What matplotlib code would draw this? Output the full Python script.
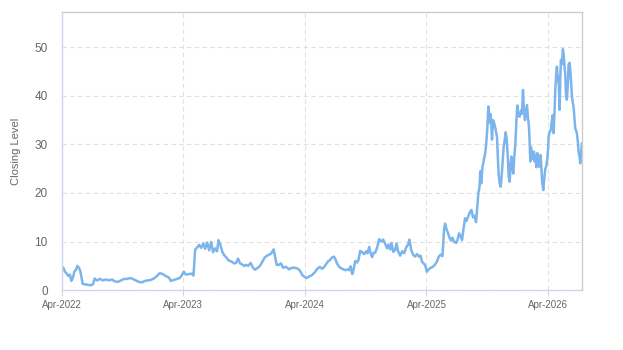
import matplotlib
matplotlib.use("Agg")
import matplotlib.pyplot as plt
import matplotlib.dates as mdates
import pandas as pd

# closing level (days counted from 2022-04-01)
start = "2022-04-01"
days = [
    0, 5, 10, 16, 20, 25, 29, 34, 38, 43, 47, 52, 56, 60, 63, 70, 79, 88, 94, 99,
    106, 115, 124, 133, 142, 151, 160, 169, 178, 187, 196, 205, 214, 223, 232, 241,
    250, 259, 268, 277, 286, 295, 304, 313, 322, 328, 337, 346, 355, 361, 367, 373,
    382, 391, 396, 401, 407, 413, 419, 425, 431, 437, 443, 449, 455, 461, 467, 471,
    476, 482, 488, 494, 500, 506, 512, 518, 524, 530, 536, 542, 548, 554, 560, 568,
    574, 581, 589, 596, 604, 611, 620, 629, 637, 641, 646, 653, 659, 665, 674, 683,
    692, 701, 710, 716, 722, 728, 736, 743, 752, 761, 768, 776, 782, 788, 794, 800,
    806, 812, 818, 823, 828, 834, 840, 846, 852, 858, 864, 868, 873, 877, 882, 888,
    892, 897, 903, 909, 915, 919, 924, 928, 933, 937, 942, 948, 954, 960, 966, 972,
    978, 982, 987, 991, 996, 1002, 1006, 1011, 1017, 1023, 1029, 1035, 1041, 1045,
    1050, 1056, 1062, 1068, 1074, 1078, 1083, 1089, 1093, 1097, 1103, 1109, 1115,
    1121, 1127, 1133, 1139, 1144, 1149, 1152, 1156, 1161, 1165, 1170, 1174, 1179,
    1185, 1189, 1194, 1198, 1203, 1207, 1212, 1216, 1221, 1227, 1231, 1236, 1240,
    1245, 1249, 1252, 1255, 1258, 1261, 1264, 1267, 1273, 1276, 1279, 1282, 1285,
    1288, 1291, 1293, 1296, 1300, 1304, 1308, 1311, 1313, 1316, 1319, 1322, 1325,
    1328, 1331, 1334, 1337, 1340, 1343, 1346, 1349, 1351, 1354, 1357, 1360, 1363,
    1366, 1369, 1372, 1376, 1380, 1383, 1386, 1389, 1392, 1395, 1398, 1401, 1404,
    1406, 1408, 1410, 1413, 1416, 1419, 1421, 1424, 1426, 1429, 1431, 1434, 1437,
    1439, 1442, 1444, 1447, 1450, 1453, 1456, 1459, 1462, 1463, 1466, 1470, 1472,
    1475, 1478, 1481, 1483, 1486, 1488, 1491, 1493, 1496, 1498, 1500, 1503, 1506,
    1509, 1510, 1513, 1515, 1518, 1521, 1523, 1526, 1528, 1531, 1533, 1536, 1538,
    1541, 1543, 1546, 1548, 1551, 1553, 1556, 1558, 1561, 1563,
]
closing = [
    4.8, 4.6, 3.8, 3.3, 2.9, 3.2, 1.9, 2.6, 3.8, 4.2, 5.0, 4.6, 3.9, 2.5, 1.3, 1.2, 1.1, 1.0, 1.2, 2.4,
    2.0, 2.3, 2.0, 2.2, 2.0, 2.2, 1.8, 1.7, 2.0, 2.3, 2.3, 2.5, 2.3, 2.0, 1.7, 1.6,
    1.9, 2.0, 2.1, 2.4, 2.9, 3.5, 3.3, 2.9, 2.6, 1.9, 2.1, 2.3, 2.5, 3.1, 3.8, 3.2,
    3.3, 3.4, 3.0, 8.3, 8.8, 9.3, 8.7, 9.6, 8.5, 9.8, 8.2, 9.9, 7.8, 8.6, 8.0, 10.3,
    9.5, 8.0, 7.2, 6.8, 6.2, 6.0, 5.8, 5.5, 5.6, 6.5, 5.5, 5.3, 5.0, 5.2, 5.0, 5.6,
    4.7, 4.2, 4.6, 5.0, 6.0, 6.8, 7.2, 7.5, 8.4, 7.0, 5.2, 5.2, 5.5, 4.6, 4.8, 4.3,
    4.6, 4.6, 4.4, 4.0, 3.2, 2.8, 2.5, 2.8, 3.1, 3.7, 4.4, 4.8, 4.4, 4.7, 5.3, 5.9,
    6.2, 6.7, 6.9, 6.3, 5.4, 4.8, 4.5, 4.3, 4.1, 4.3, 4.1, 4.9, 3.3, 4.2, 6.0, 5.7,
    6.3, 8.1, 7.8, 7.4, 8.0, 7.6, 8.9, 7.6, 6.8, 7.7, 7.7, 8.8, 10.5, 10.0, 10.4, 9.5,
    8.6, 9.4, 8.4, 9.7, 7.9, 8.2, 9.6, 8.0, 7.1, 8.0, 7.6, 8.8, 9.4, 10.4,
    8.3, 7.3, 6.9, 7.4, 6.9, 7.1, 5.8, 5.4, 5.0, 3.8, 4.3, 4.6, 4.8,
    5.2, 5.8, 6.9, 7.3, 7.0, 12.5, 13.7, 12.6, 11.7, 10.8, 10.2, 10.8, 10.0,
    9.7, 10.3, 11.7, 11.2, 10.3, 12.5, 14.8, 14.2, 15.1, 16.1, 16.5, 15.0, 15.3,
    14.0, 17.5, 20.0, 21.0, 24.5, 22.0, 25.2, 26.3, 28.4, 30.5, 33.5, 37.8, 34.5,
    36.3, 34.0, 31.0, 35.0, 34.3, 33.0, 31.5, 26.5, 23.8, 22.0, 21.3, 23.5, 26.5,
    29.5, 30.8, 32.5, 31.0, 28.0, 23.5, 22.3, 26.0, 27.5, 25.0, 24.0, 27.5, 30.0,
    34.5, 38.0, 36.0, 35.7, 37.0, 36.3, 41.2, 37.0, 35.0, 36.5, 38.1, 35.5, 33.7,
    30.5, 26.5, 29.5, 28.2, 27.0, 28.5, 26.5, 27.8, 25.3, 28.2, 26.0, 25.4, 27.0,
    27.8, 24.5, 22.0, 20.6, 23.0, 25.0, 25.5, 27.0, 29.5, 31.6, 32.5, 33.0, 34.5,
    36.0, 32.3, 37.0, 41.2, 44.5, 46.0, 43.0, 44.0, 37.1, 43.5, 47.4, 46.5, 49.6,
    48.0, 46.7, 44.5, 40.6, 39.2, 42.5, 46.4, 46.8, 45.4, 42.5, 39.9, 38.5, 37.8,
    35.0, 33.3, 32.8, 32.3, 30.5, 28.5, 27.5, 26.1, 28.5, 30.2,
]
tick_years = [2022, 2023, 2024, 2025, 2026]

dates = pd.to_datetime(start) + pd.to_timedelta(days, unit="D")

plt.rcParams['font.family'] = ['Liberation Sans', 'DejaVu Sans']

fig = plt.figure(figsize=(6.23, 3.5), dpi=100)
ax = fig.add_axes([0.099, 0.171, 0.835, 0.794])

ax.plot(dates, closing, color="#7cb5ec", linewidth=1.8, solid_joinstyle="round")

ax.set_xlim(dates[0], dates[-1])
ax.set_ylim(0, 57.2)
ax.set_yticks([0, 10, 20, 30, 40, 50])

ax.set_xticks([pd.Timestamp(f"{y}-04-01") for y in tick_years])
ax.xaxis.set_major_formatter(mdates.DateFormatter("%b-%Y"))

ax.grid(True, color="#e0e0e0", linestyle=(0, (4, 3)), linewidth=0.8)
ax.set_axisbelow(True)

for side in ["top", "right"]:
    ax.spines[side].set_color("#cccccc")
for side in ["left", "bottom"]:
    ax.spines[side].set_color("#ccd6eb")
for sp in ax.spines.values():
    sp.set_linewidth(1.0)

ax.tick_params(axis="y", length=0, pad=10, labelsize=8.5, labelcolor="#666666")
ax.tick_params(axis="x", length=4, color="#ccd6eb", pad=3, labelsize=7, labelcolor="#666666")

ax.set_ylabel("Closing Level", fontsize=8, color="#666666", labelpad=10)

fig.savefig("out.png", dpi=100)
